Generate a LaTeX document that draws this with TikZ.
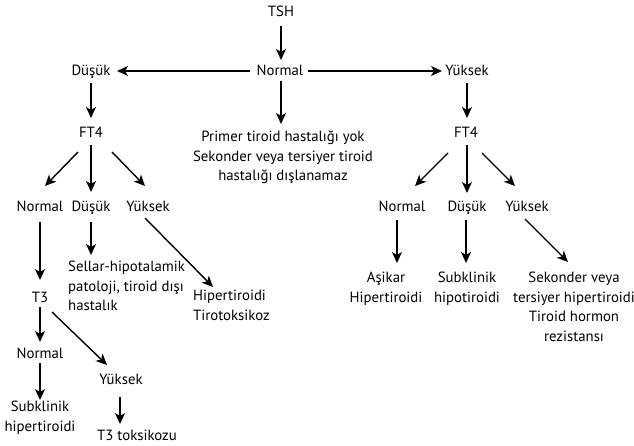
\documentclass[tikz,border=0pt]{standalone}
\usepackage{fontspec}
\setmainfont{PT Sans}
\usetikzlibrary{arrows.meta}
\begin{document}
\begin{tikzpicture}[x=1pt,y=-1pt,
  lbl/.style={inner sep=0pt, font=\fontsize{14.8}{19.5}\selectfont, anchor=base},
  mlbl/.style={inner sep=0pt, font=\fontsize{14.8}{19.5}\selectfont, align=center, anchor=north},
  llbl/.style={inner sep=0pt, font=\fontsize{14.8}{19.5}\selectfont, align=left, anchor=north west},
  arr/.style={line width=1.4pt, -{Stealth[length=11pt,width=10pt,inset=3pt]}}]
\useasboundingbox (0,0) rectangle (634,446);
\node[lbl] (tsh) at (281,17) {TSH};
\node[lbl] (n0) at (280,76) {Normal};
\node[lbl] (dl) at (91,76) {Düşük};
\node[lbl] (yr) at (467,76) {Yüksek};
\node[lbl] (ft4l) at (91,138) {FT4};
\node[lbl] (ft4r) at (466,138) {FT4};
\node[mlbl] (primer) at (283,131) {Primer tiroid hastalığı yok\\Sekonder veya tersiyer tiroid\\hastalığı dışlanamaz};
\node[lbl] (nl) at (40,212) {Normal};
\node[lbl] (dll) at (91,212) {Düşük};
\node[lbl] (yl) at (148,212) {Yüksek};
\node[lbl] (nr) at (402,212) {Normal};
\node[lbl] (dr) at (467,212) {Düşük};
\node[lbl] (yrr) at (527,212) {Yüksek};
\node[lbl] (t3) at (40,302) {T3};
\node[llbl] (sellar) at (68,261) {Sellar-hipotalamik\\patoloji, tiroid dışı\\hastalık};
\node[llbl] (hiper) at (193,290) {Hipertiroidi\\Tirotoksikoz};
\node[lbl] (n3) at (40,358) {Normal};
\node[lbl] (y3) at (121,384) {Yüksek};
\node[mlbl] (subh) at (40,401) {Subklinik\\hipertiroidi};
\node[lbl] (t3tox) at (137,440) {T3 toksikozu};
\node[mlbl] (asikar) at (386,272) {Aşikar\\Hipertiroidi};
\node[mlbl] (subhipo) at (467,272) {Subklinik\\hipotiroidi};
\node[mlbl] (sek) at (574,272) {Sekonder veya\\tersiyer hipertiroidi\\Tiroid hormon\\rezistansı};

\draw[arr] ([shift={(0,9)}]tsh.base) -- ([shift={(0,-16)}]tsh.base |- n0.base);
\draw[arr] ([shift={(-30,-5)}]n0.base) -- ([shift={(26,-5)}]dl.base);
\draw[arr] ([shift={(28,-5)}]n0.base) -- ([shift={(-25,-5)}]yr.base);
\draw[arr] ([shift={(1,5)}]n0.base) -- ([shift={(-2,-7)}]primer.north);
\draw[arr] ([shift={(0,7)}]dl.base) -- ([shift={(0,-20)}]ft4l.base);
\draw[arr] ([shift={(0,7)}]yr.base) -- ([shift={(1,-20)}]ft4r.base);
\draw[arr] ([shift={(-13,14)}]ft4l.base) -- ([shift={(5,-26)}]nl.base);
\draw[arr] ([shift={(0,7)}]ft4l.base) -- ([shift={(0,-20)}]dll.base);
\draw[arr] ([shift={(21,14)}]ft4l.base) -- ([shift={(-3,-26)}]yl.base);
\draw[arr] ([shift={(-18,15)}]ft4r.base) -- ([shift={(13,-26)}]nr.base);
\draw[arr] ([shift={(1,7)}]ft4r.base) -- ([shift={(0,-19)}]dr.base);
\draw[arr] ([shift={(16,15)}]ft4r.base) -- ([shift={(-12,-26)}]yrr.base);
\draw[arr] ([shift={(0,10)}]nl.base) -- ([shift={(0,-22)}]t3.base);
\draw[arr] ([shift={(0,10)}]dll.base) -- ([shift={(23,-6)}]sellar.north west);
\draw[arr] ([shift={(-3,6)}]yl.base) -- ([shift={(20,-3)}]hiper.north west);
\draw[arr] ([shift={(0,5)}]t3.base) -- ([shift={(0,-16)}]n3.base);
\draw[arr] ([shift={(12,10)}]t3.base) -- ([shift={(-14,-19)}]y3.base);
\draw[arr] ([shift={(0,5)}]n3.base) -- ([shift={(0,-1)}]subh.north);
\draw[arr] ([shift={(-1,13)}]y3.base) -- ([shift={(-17,-16)}]t3tox.base);
\draw[arr] ([shift={(-5,8)}]nr.base) -- ([shift={(11,-9)}]asikar.north);
\draw[arr] ([shift={(-1,8)}]dr.base) -- ([shift={(-1,-9)}]subhipo.north);
\draw[arr] ([shift={(-2,7)}]yrr.base) -- ([shift={(-6,-10)}]sek.north);
\end{tikzpicture}
\end{document}
